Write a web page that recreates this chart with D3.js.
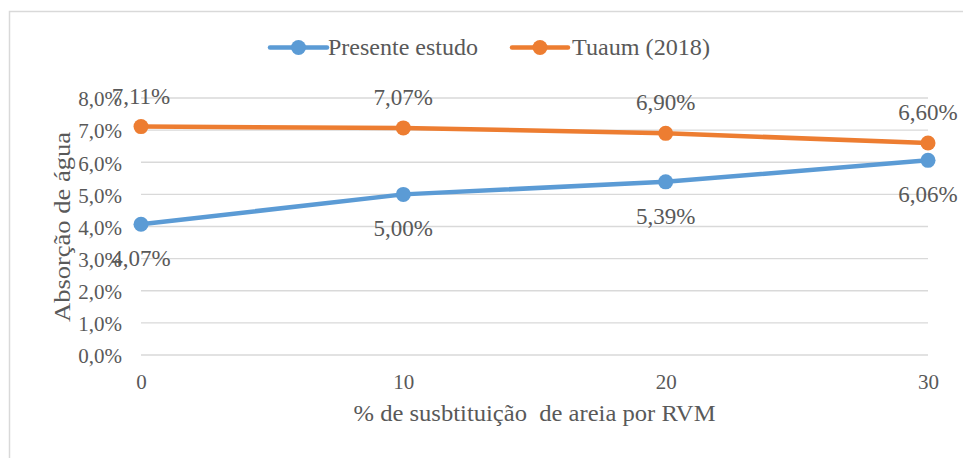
<!DOCTYPE html>
<html>
<head>
<meta charset="utf-8">
<script src="https://cdn.jsdelivr.net/npm/d3@7"></script>
</head>
<body style="margin:0">
<svg id="chart" width="963" height="458"></svg>
<script>
// Water absorption by sand replacement level
const categories = [0, 10, 20, 30];
const presenteEstudo = [4.07, 5.00, 5.39, 6.06];
const tuaum2018 = [7.11, 7.07, 6.90, 6.60];
const seriesNames = ["Presente estudo", "Tuaum (2018)"];
const yTicks = [0, 1, 2, 3, 4, 5, 6, 7, 8];
const xTitle = "% de susbtituição\u00a0 de areia por RVM";
const yTitle = "Absorção de água";

const colors = ["#5B9BD5", "#ED7D31"];
const FONT = "Liberation Serif";
const TEXT = "#595959";
const fmtTick = v => v.toFixed(1).replace(".", ",") + "%";
const fmtLabel = v => v.toFixed(2).replace(".", ",") + "%";

const svg = d3.select("#chart");

// chart frame
svg.append("rect")
  .attr("x", 9.5).attr("y", 11.5)
  .attr("width", 980).attr("height", 480)
  .attr("fill", "none").attr("stroke", "#D9D9D9").attr("stroke-width", 1.5);

const x = d3.scaleLinear().domain([0, 30]).range([141, 928]);
const y = d3.scaleLinear().domain([0, 8]).range([355, 98]);

// gridlines
svg.append("g")
  .selectAll("line").data(yTicks).join("line")
  .attr("x1", x(0)).attr("x2", x(30))
  .attr("y1", d => y(d)).attr("y2", d => y(d))
  .attr("stroke", "#D9D9D9").attr("stroke-width", 1.3);

function styleText(sel, size) {
  sel.attr("font-family", FONT).attr("font-size", size).attr("fill", TEXT);
}

// y axis tick labels
const yAxis = d3.axisLeft(y).tickValues(yTicks).tickFormat(fmtTick).tickSize(0).tickPadding(19);
const yg = svg.append("g").attr("transform", `translate(${x(0)},0)`).call(yAxis);
yg.attr("font-family", FONT).attr("font-size", 21);
yg.select(".domain").remove();
yg.selectAll("text").call(styleText, 21).attr("dy", "0.37em");

// x axis tick labels
const xAxis = d3.axisBottom(x).tickValues(categories).tickFormat(d => d).tickSize(0).tickPadding(19);
const xg = svg.append("g").attr("transform", `translate(0,${y(0)})`).call(xAxis);
xg.attr("font-family", FONT).attr("font-size", 21);
xg.select(".domain").remove();
xg.selectAll("text").call(styleText, 21).attr("dy", "0.71em");

// axis titles
svg.append("text")
  .attr("x", (x(0) + x(30)) / 2).attr("y", 421)
  .attr("text-anchor", "middle")
  .attr("textLength", 362).attr("lengthAdjust", "spacingAndGlyphs")
  .call(styleText, 23)
  .text(xTitle);

svg.append("text")
  .attr("transform", "translate(70,227) rotate(-90)")
  .attr("text-anchor", "middle")
  .attr("textLength", 190).attr("lengthAdjust", "spacingAndGlyphs")
  .call(styleText, 23)
  .text(yTitle);

// series lines and markers
const series = [presenteEstudo, tuaum2018];
const line = d3.line().x((d, i) => x(categories[i])).y(d => y(d));

series.forEach((vals, s) => {
  svg.append("path")
    .datum(vals)
    .attr("d", line)
    .attr("fill", "none")
    .attr("stroke", colors[s])
    .attr("stroke-width", 4.5)
    .attr("stroke-linejoin", "round")
    .attr("stroke-linecap", "round");
  svg.append("g").selectAll("circle").data(vals).join("circle")
    .attr("cx", (d, i) => x(categories[i]))
    .attr("cy", d => y(d))
    .attr("r", 7.5)
    .attr("fill", colors[s]);
});

// data labels: below for the first series, above for the second
svg.append("g").selectAll("text").data(presenteEstudo).join("text")
  .attr("x", (d, i) => x(categories[i]))
  .attr("y", d => y(d) + 42)
  .attr("text-anchor", "middle")
  .call(styleText, 23)
  .text(fmtLabel);

svg.append("g").selectAll("text").data(tuaum2018).join("text")
  .attr("x", (d, i) => x(categories[i]))
  .attr("y", d => y(d) - 23)
  .attr("text-anchor", "middle")
  .call(styleText, 23)
  .text(fmtLabel);

// legend
const legendItems = [
  { name: seriesNames[0], color: colors[0], x0: 270, x1: 327, tx: 328, w: 150 },
  { name: seriesNames[1], color: colors[1], x0: 512, x1: 568, tx: 572, w: 138 }
];
const lg = svg.append("g");
legendItems.forEach(it => {
  const ly = 47.5;
  lg.append("line")
    .attr("x1", it.x0).attr("x2", it.x1).attr("y1", ly).attr("y2", ly)
    .attr("stroke", it.color).attr("stroke-width", 4.5).attr("stroke-linecap", "round");
  lg.append("circle").attr("cx", (it.x0 + it.x1) / 2).attr("cy", ly).attr("r", 7.5).attr("fill", it.color);
  lg.append("text").attr("x", it.tx).attr("y", ly + 7.5)
    .attr("textLength", it.w).attr("lengthAdjust", "spacingAndGlyphs")
    .call(styleText, 23)
    .text(it.name);
});
</script>
</body>
</html>
